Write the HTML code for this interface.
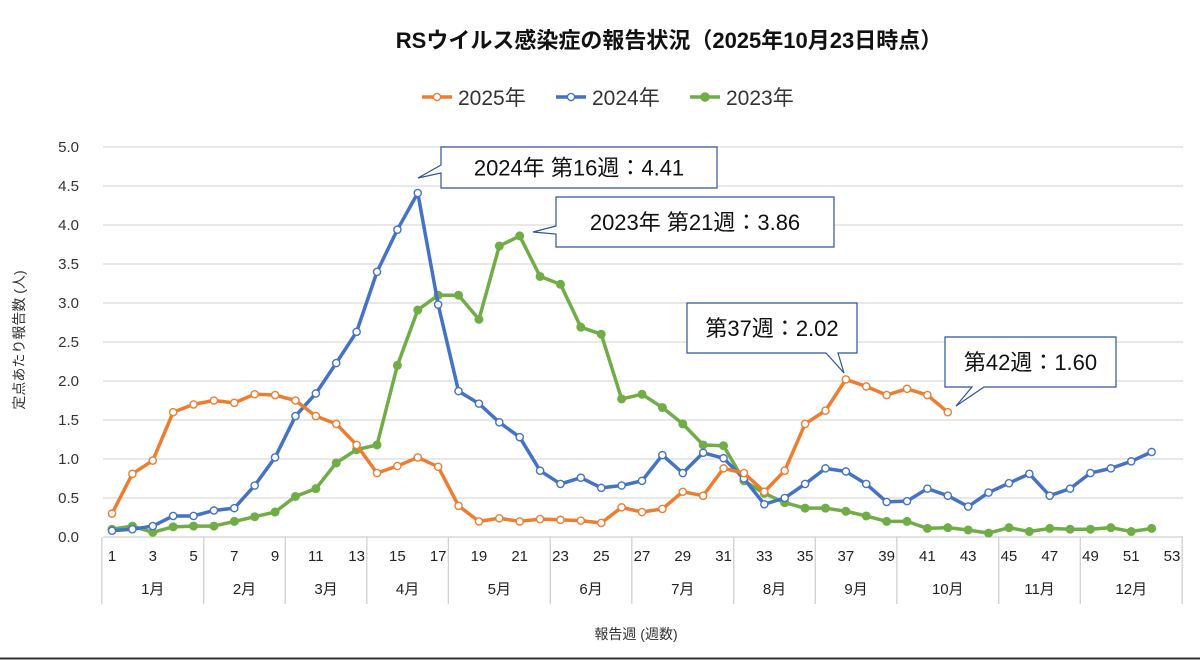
<!DOCTYPE html>
<html><head><meta charset="utf-8">
<style>
body{margin:0;background:#fff;}
svg{display:block;font-family:"Liberation Sans","Noto Sans CJK JP",sans-serif;}
</style></head>
<body>
<svg id="chart" width="1200" height="660" viewBox="0 0 1200 660">
<rect x="0" y="0" width="1200" height="660" fill="#fff"/>
<line x1="0" y1="658.5" x2="1200" y2="658.5" stroke="#333" stroke-width="2"/>
<text x="669" y="48" text-anchor="middle" font-size="22" font-weight="bold" fill="#111">RSウイルス感染症の報告状況（2025年10月23日時点）</text>
<g id="legend"></g>
<g id="grid"></g>
<g id="axes"></g>
<g id="series"></g>
<g id="callouts"></g>
<text transform="translate(24,340) rotate(-90)" text-anchor="middle" font-size="14" fill="#333">定点あたり報告数 (人)</text>
<text x="636" y="639" text-anchor="middle" font-size="14" fill="#333">報告週 (週数)</text>
</svg>
<script>
const weeks = Array.from({length:52},(_,i)=>i+1);
const s2025 = [0.30,0.81,0.98,1.60,1.70,1.75,1.72,1.83,1.82,1.75,1.55,1.45,1.18,0.82,0.91,1.02,0.90,0.40,0.20,0.24,0.20,0.23,0.22,0.21,0.18,0.38,0.32,0.36,0.58,0.53,0.88,0.82,0.58,0.85,1.45,1.62,2.02,1.93,1.82,1.90,1.82,1.60];
const s2024 = [0.08,0.10,0.14,0.27,0.27,0.34,0.37,0.66,1.02,1.55,1.84,2.23,2.63,3.40,3.94,4.41,2.98,1.87,1.71,1.47,1.28,0.85,0.68,0.76,0.63,0.66,0.72,1.05,0.82,1.08,1.01,0.75,0.42,0.50,0.68,0.88,0.84,0.68,0.45,0.46,0.62,0.53,0.39,0.57,0.69,0.81,0.53,0.62,0.82,0.88,0.97,1.09];
const s2023 = [0.10,0.14,0.06,0.13,0.14,0.14,0.20,0.26,0.32,0.52,0.62,0.95,1.12,1.18,2.20,2.91,3.10,3.10,2.79,3.73,3.86,3.34,3.24,2.69,2.60,1.77,1.83,1.66,1.45,1.18,1.17,0.72,0.56,0.44,0.37,0.37,0.33,0.27,0.20,0.20,0.11,0.12,0.09,0.05,0.12,0.07,0.11,0.10,0.10,0.12,0.07,0.11];
const yTicks = ["0.0","0.5","1.0","1.5","2.0","2.5","3.0","3.5","4.0","4.5","5.0"];
const xTickLabels = [1,3,5,7,9,11,13,15,17,19,21,23,25,27,29,31,33,35,37,39,41,43,45,47,49,51,53];
const months = ["1月","2月","3月","4月","5月","6月","7月","8月","9月","10月","11月","12月"];
const monthEnds = [5,9,13,17,22,26,31,35,39,44,48,53];

const NS="http://www.w3.org/2000/svg";
const X = w => 112 + (w-1)*20.385;
const Y = v => 537 - v*78;
function mk(tag, attrs, parent){const e=document.createElementNS(NS,tag);for(const k in attrs)e.setAttribute(k,attrs[k]);parent.appendChild(e);return e;}
const grid=document.getElementById('grid'), axes=document.getElementById('axes'), ser=document.getElementById('series');

yTicks.forEach(t=>{
  const v=parseFloat(t);
  if(v>0){const g=mk('line',{x1:103,x2:1183,y1:Y(v),y2:Y(v),stroke:'#d9d9d9','stroke-width':1.3},grid);
  
  }
  const tx=mk('text',{x:79,y:Y(v)+5,'text-anchor':'end','font-size':15,fill:'#333'},axes);
  tx.textContent=t;
  
  
});
mk('line',{x1:103,x2:1183,y1:537,y2:537,stroke:'#d0d0d0','stroke-width':1.3},axes);
xTickLabels.forEach(w=>{
  const tx=mk('text',{x:X(w),y:561,'text-anchor':'middle','font-size':15,fill:'#222'},axes);
  tx.textContent=w;
  
  
});
let prev=0.5;
mk('line',{x1:X(0.5),x2:X(0.5),y1:537,y2:604,stroke:'#d0d0d0','stroke-width':1.3},axes);
months.forEach((m,i)=>{
  const e=monthEnds[i]+0.5;
  mk('line',{x1:X(e),x2:X(e),y1:537,y2:604,stroke:'#d0d0d0','stroke-width':1.3},axes);
  const tx=mk('text',{x:(X(prev)+X(e))/2,y:594,'text-anchor':'middle','font-size':15,fill:'#222'},axes);
  tx.textContent=m;
  
  
  prev=e;
});

function drawSeries(data,color,filled,name){
  const g=mk('g',{},ser);
  
  
  const pts=data.map((v,i)=>X(weeks[i])+','+Y(v)).join(' ');
  mk('polyline',{points:pts,fill:'none',stroke:color,'stroke-width':3.5,'stroke-linejoin':'round'},g);
  data.forEach((v,i)=>{
    const c=mk('circle',{cx:X(weeks[i]),cy:Y(v),r:filled?4:3.6,fill:filled?color:'#fff',stroke:color,'stroke-width':filled?1:1.4},g);
    
    
  });
}
drawSeries(s2023,'#70ad47',true,'series-2023');
drawSeries(s2024,'#4472c4',false,'series-2024');
drawSeries(s2025,'#ed7d31',false,'series-2025');

const leg=document.getElementById('legend');
[["2025年",'#ed7d31',false,422],["2024年",'#4472c4',false,556],["2023年",'#70ad47',true,690]].forEach(([t,c,f,x])=>{
  const g=mk('g',{},leg);
  
  
  mk('line',{x1:x,x2:x+30,y1:97,y2:97,stroke:c,'stroke-width':3.5},g);
  mk('circle',{cx:x+15,cy:97,r:f?4:3.6,fill:f?c:'#fff',stroke:c,'stroke-width':1.4},g);
  const tx=mk('text',{x:x+36,y:105,'font-size':21,fill:'#333'},g);
  tx.textContent=t;
});

const co=document.getElementById('callouts');
function callout(x1,y1,x2,y2,px,py,side,pos,text){
  const g=mk('g',{},co);
  
  
  let d;
  if(side==='left'){
    d=`M${x1},${y1} H${x2} V${y2} H${x1} V${pos+8} L${px},${py} L${x1},${pos} Z`;
  } else {
    d=`M${x1},${y1} H${x2} V${y2} H${pos+12} L${px},${py} L${pos},${y2} H${x1} Z`;
  }
  mk('path',{d:d,fill:'#fff',stroke:'#2f5597','stroke-width':1.2},g);
  const tx=mk('text',{x:(x1+x2)/2,y:(y1+y2)/2+8,'text-anchor':'middle','font-size':22,fill:'#111'},g);
  tx.textContent=text;
}
callout(441,147,717,188,418,178,'left',165,'2024年 第16週：4.41');
callout(556,197,834,247,533,232,'left',226,'2023年 第21週：3.86');
callout(687,303,857,353,844,373,'bottom',826,'第37週：2.02');
callout(945,337,1116,387,956,406,'bottom',972,'第42週：1.60');
</script>
</body></html>
